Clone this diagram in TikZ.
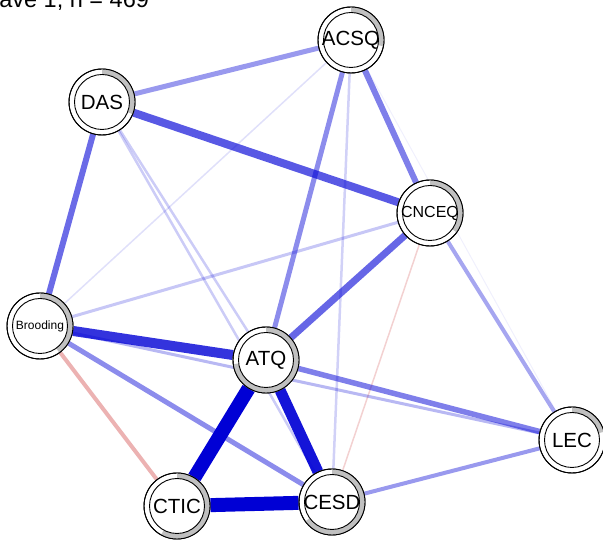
\documentclass[tikz,border=0pt]{standalone}
\usepackage{fontspec}
\setmainfont{Liberation Sans}
\usetikzlibrary{calc}
\definecolor{posc}{HTML}{0000D5}
\definecolor{negc}{HTML}{BF0000}
\definecolor{piec}{HTML}{C0C0C0}
\pgfdeclarelayer{edgelayer}
\pgfsetlayers{edgelayer,main}
\tikzset{
  vert/.style={circle, draw=black, line width=0.9pt, fill=white,
               minimum size=66pt, inner sep=0pt, font=\fontsize{20.5}{20.5}\selectfont},
  pe/.style 2 args={draw=posc, line width=#1, draw opacity=#2},
  ne/.style 2 args={draw=negc, line width=#1, draw opacity=#2},
}
% grey pie ring between the outer border and an inner circle, clockwise from 12 o'clock
\newcommand\piering[2]{%
  \fill[piec] ([shift={(90:33pt)}]#1.center)
     arc[start angle=90, end angle={90-360*#2}, radius=33pt]
     -- ([shift={({90-360*#2}:27.5pt)}]#1.center)
     arc[start angle={90-360*#2}, end angle=90, radius=27.5pt] -- cycle;
  \draw[black, line width=0.9pt] (#1.center) circle[radius=33pt];
  \draw[black, line width=0.9pt] (#1.center) circle[radius=27.5pt];
}
\begin{document}
\begin{tikzpicture}[x=1pt, y=1pt]
\useasboundingbox (0,0) rectangle (603,541);
\clip (0,0) rectangle (603,541);

% title
\node[anchor=base west, inner sep=0pt, font=\fontsize{23.5}{23.5}\selectfont]
  (title) at (-22.2,533) {Wave 1, n = 469};

% variables
\node[vert] (acsq)  at (351,501) {ACSQ};
\node[vert] (das)   at (102,439) {DAS};
\node[vert, font=\fontsize{16}{16}\selectfont] (cnceq) at (430,328) {CNCEQ};
\node[vert, font=\fontsize{12}{12}\selectfont] (brood) at (40,215) {Brooding};
\node[vert] (atq)   at (266,181) {ATQ};
\node[vert] (lec)   at (572,101) {LEC};
\node[vert] (ctic)  at (177,35) {CTIC};
\node[vert] (cesd)  at (332,39) {CESD};

\piering{acsq}{0.28}
\piering{das}{0.31}
\piering{cnceq}{0.35}
\piering{brood}{0.40}
\piering{atq}{0.73}
\piering{lec}{0.21}
\piering{ctic}{0.58}
\piering{cesd}{0.65}

% partial correlations, weakest first
\begin{pgfonlayer}{edgelayer}
\draw[pe={1pt}{0.06}] (acsq) -- (lec);
\draw[pe={1.5pt}{0.12}] (acsq) -- (brood);
\draw[ne={1.5pt}{0.18}] (cnceq) -- (cesd);
\draw[pe={2.5pt}{0.18}] (acsq) -- (cesd);
\draw[pe={2.5pt}{0.2}] (das) -- (atq);
\draw[pe={2.5pt}{0.2}] (das) -- (cesd);
\draw[pe={3pt}{0.22}] (cnceq) -- (brood);
\draw[pe={3pt}{0.28}] (brood) -- (lec);
\draw[ne={4pt}{0.3}] (brood) -- (ctic);
\draw[pe={4pt}{0.35}] (cnceq) -- (lec);
\draw[pe={4pt}{0.4}] (cesd) -- (lec);
\draw[pe={5pt}{0.4}] (acsq) -- (das);
\draw[pe={5pt}{0.45}] (brood) -- (cesd);
\draw[pe={5pt}{0.45}] (acsq) -- (atq);
\draw[pe={5.5pt}{0.5}] (atq) -- (lec);
\draw[pe={6pt}{0.5}] (acsq) -- (cnceq);
\draw[pe={6pt}{0.58}] (das) -- (brood);
\draw[pe={7pt}{0.6}] (cnceq) -- (atq);
\draw[pe={8pt}{0.65}] (das) -- (cnceq);
\draw[pe={10pt}{0.8}] (brood) -- (atq);
\draw[pe={11pt}{0.92}] (atq) -- (cesd);
\draw[pe={14pt}{1}] (atq) -- (ctic);
\draw[pe={14pt}{1}] (ctic) -- (cesd);
\end{pgfonlayer}
\end{tikzpicture}
\end{document}
